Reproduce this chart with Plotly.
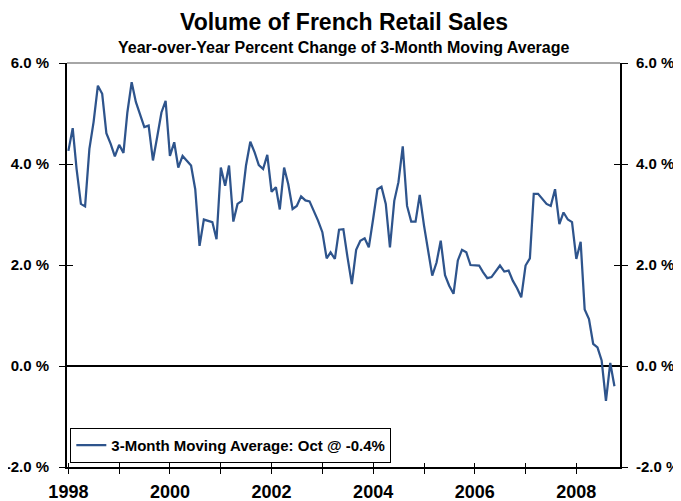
import pandas as pd
import plotly.graph_objects as go

# Year-over-year % change of 3-month moving average, monthly from Jan 1998 to Oct 2008
start_month = '1998-01-01'
yoy_values = [
    4.26, 4.71, 3.90, 3.21, 3.16, 4.30, 4.83, 5.55, 5.39, 4.61, 4.40, 4.15,   # 1998
    4.38, 4.22, 5.02, 5.62, 5.23, 4.99, 4.73, 4.76, 4.07, 4.53, 5.02, 5.25,   # 1999
    4.16, 4.43, 3.93, 4.16, 4.07, 3.97, 3.50, 2.38, 2.90, 2.88, 2.85, 2.51,   # 2000
    3.93, 3.57, 3.97, 2.86, 3.21, 3.27, 3.97, 4.44, 4.23, 3.98, 3.90, 4.18,   # 2001
    3.45, 3.54, 3.10, 3.93, 3.60, 3.11, 3.17, 3.36, 3.28, 3.26, 3.08, 2.88,   # 2002
    2.65, 2.13, 2.25, 2.12, 2.70, 2.71, 2.15, 1.62, 2.30, 2.48, 2.53, 2.35,   # 2003
    2.91, 3.50, 3.55, 3.21, 2.35, 3.27, 3.64, 4.35, 3.17, 2.86, 2.86, 3.39,   # 2004
    2.78, 2.28, 1.79, 2.05, 2.48, 1.80, 1.59, 1.43, 2.09, 2.30, 2.25, 2.00,   # 2005
    2.00, 1.99, 1.86, 1.74, 1.76, 1.89, 1.99, 1.87, 1.89, 1.69, 1.54, 1.36,   # 2006
    1.99, 2.13, 3.41, 3.41, 3.32, 3.21, 3.17, 3.50, 2.81, 3.04, 2.90, 2.85,   # 2007
    2.12, 2.46, 1.12, 0.93, 0.44, 0.37, 0.11, -0.69, 0.06, -0.40,             # 2008
]
tick_years = list(range(1998, 2009))
y_ticks = [-2, 0, 2, 4, 6]
y_tick_text = ['-2.0 %', '0.0 %', '2.0 %', '4.0 %', '6.0 %']

title_text = 'Volume of French Retail Sales'
subtitle_text = 'Year-over-Year Percent Change of 3-Month Moving Average'
legend_text = '3-Month Moving Average: Oct @ -0.4%'

dates = pd.date_range(start_month, periods=len(yoy_values), freq='MS')

line_color = '#2E548C'
font_family = 'Liberation Sans, Arial, sans-serif'
x_range = ['1997-12-22', '2008-11-10']
y_range = [-2, 6]

tick_vals = [f'{year}-01-01' for year in tick_years]
tick_text = [str(year) if year % 2 == 0 else '' for year in tick_years]

# Main line
main_trace = go.Scatter(x=dates, y=yoy_values,
                        mode='lines',
                        name=legend_text,
                        line={'color': line_color, 'width': 2.25},
                        hoverinfo='x+y')

# Invisible helpers so the overlay axes (crossing ticks, right labels) get drawn
def helper_trace(xaxis, yaxis):
    return go.Scatter(x=dates, y=yoy_values, xaxis=xaxis, yaxis=yaxis,
                      mode='lines', line={'width': 0}, opacity=0,
                      showlegend=False, hoverinfo='skip')

fig = go.Figure(data=[main_trace,
                      helper_trace('x', 'y2'),
                      helper_trace('x', 'y3'),
                      helper_trace('x2', 'y')])

tick_font = {'family': font_family, 'size': 15, 'color': 'black', 'weight': 'bold'}

# The page body adds an 8px margin, so the figure is 8px smaller than the window
fig.update_layout(
    width=673, height=493,
    margin={'l': 59, 'r': 61, 't': 55, 'b': 34},
    paper_bgcolor='white', plot_bgcolor='white',
    font={'family': font_family, 'color': 'black'},
    showlegend=True,
    legend={'x': 0.006, 'y': 0.097, 'xanchor': 'left', 'yanchor': 'top',
            'bgcolor': 'white', 'bordercolor': 'black', 'borderwidth': 1,
            'font': {'family': font_family, 'size': 15, 'color': 'black', 'weight': 'bold'}},
    xaxis={'type': 'date', 'range': x_range, 'automargin': False,
           'tickmode': 'array', 'tickvals': tick_vals, 'ticktext': tick_text,
           'ticks': 'outside', 'ticklen': 5, 'tickwidth': 1, 'tickcolor': 'black',
           'ticklabelstandoff': 3,
           'showline': True, 'linecolor': 'black', 'linewidth': 1.5,
           'showgrid': False, 'zeroline': False,
           'tickfont': {'family': font_family, 'size': 18, 'color': 'black', 'weight': 'bold'}},
    xaxis2={'type': 'date', 'range': x_range, 'overlaying': 'x', 'anchor': 'y', 'automargin': False,
            'tickmode': 'array', 'tickvals': tick_vals,
            'ticks': 'inside', 'ticklen': 4, 'tickwidth': 1, 'tickcolor': 'black',
            'showticklabels': False, 'showline': False, 'showgrid': False, 'zeroline': False},
    yaxis={'range': y_range, 'tickmode': 'array', 'tickvals': y_ticks, 'automargin': False,
           'ticks': 'inside', 'ticklen': 6, 'tickwidth': 1, 'tickcolor': 'black',
           'showticklabels': False, 'showline': True, 'mirror': 'ticks',
           'linecolor': 'black', 'linewidth': 1.5, 'showgrid': False,
           'zeroline': True, 'zerolinecolor': 'black', 'zerolinewidth': 1.5},
    yaxis2={'range': y_range, 'overlaying': 'y', 'side': 'right', 'anchor': 'x', 'automargin': False,
            'tickmode': 'array', 'tickvals': y_ticks, 'ticktext': y_tick_text,
            'ticks': 'outside', 'ticklen': 7, 'tickwidth': 1, 'tickcolor': 'black',
            'ticklabelstandoff': 5,
            'showline': False, 'showgrid': False, 'zeroline': False,
            'tickfont': tick_font},
    yaxis3={'range': y_range, 'overlaying': 'y', 'side': 'left', 'anchor': 'x', 'automargin': False,
            'tickmode': 'array', 'tickvals': y_ticks, 'ticktext': y_tick_text,
            'ticks': 'outside', 'ticklen': 7, 'tickwidth': 1, 'tickcolor': 'black',
            'ticklabelstandoff': 7,
            'showline': False, 'showgrid': False, 'zeroline': False,
            'tickfont': tick_font},
    shapes=[{'type': 'line', 'xref': 'paper', 'yref': 'paper',
             'x0': 0, 'x1': 1, 'y0': 1, 'y1': 1,
             'line': {'color': '#888888', 'width': 1.5}}],
    annotations=[{'text': title_text, 'xref': 'paper', 'yref': 'paper',
                  'x': 0.5, 'y': 1, 'xanchor': 'center', 'yanchor': 'bottom', 'yshift': 26,
                  'showarrow': False,
                  'font': {'family': font_family, 'size': 23, 'color': 'black', 'weight': 'bold'}},
                 {'text': subtitle_text, 'xref': 'paper', 'yref': 'paper',
                  'x': 0.5, 'y': 1, 'xanchor': 'center', 'yanchor': 'bottom', 'yshift': 5,
                  'showarrow': False,
                  'font': {'family': font_family, 'size': 16, 'color': 'black', 'weight': 'bold'}}],
)

fig.write_html('out.html')
